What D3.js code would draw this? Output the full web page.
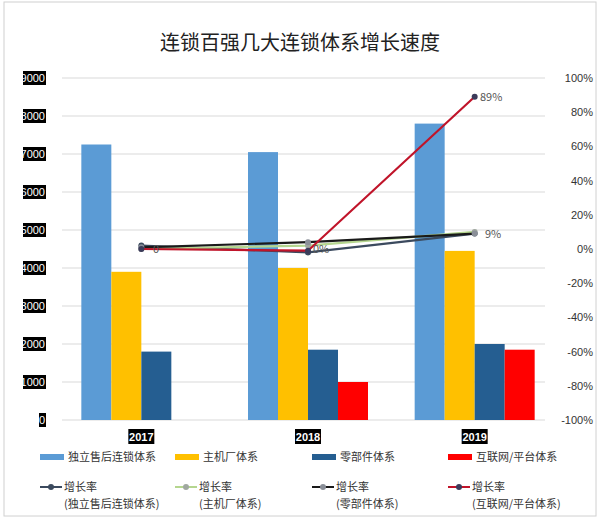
<!DOCTYPE html>
<html><head><meta charset="utf-8">
<script src="https://cdn.jsdelivr.net/npm/d3@7/dist/d3.min.js"></script>
<style>body{margin:0;background:#fff;font-family:"Noto Sans CJK SC",sans-serif}</style>
</head><body><div id="chart"></div>
<script>
var years = ["2017", "2018", "2019"]
var seriesNames = ["独立售后连锁体系", "主机厂体系", "零部件体系", "互联网/平台体系"]
var barValues = [
  [7250, 7050, 7800],
  [3900, 4000, 4450],
  [1800, 1850, 2000],
  [null, 1000, 1850]
]
var growthValues = [
  [2, -2, 9],
  [0, 2, 10],
  [1, 4, 9],
  [0, -1, 89]
]
var leftTicks = [0, 1000, 2000, 3000, 4000, 5000, 6000, 7000, 8000, 9000]
var rightTicks = [-100, -80, -60, -40, -20, 0, 20, 40, 60, 80, 100]

var barColors = ["#5b9bd5", "#ffc000", "#255e91", "#ff0000"]
var lineColors = ["#3b4a5e", "#b5d68f", "#1a1a1a", "#c0142a"]
var dotColors = ["#3b4a5e", "#a0a8a0", "#8a8f98", "#3b3b5a"]

var svg = d3.select('#chart').append('svg').attr('width', 600).attr('height', 519)
svg.append('rect').attr('x', 4).attr('y', 2).attr('width', 592).attr('height', 514)
  .attr('fill', 'none').attr('stroke', '#d0d0d0')

svg.append('text').attr('x', 300).attr('y', 50).attr('text-anchor', 'middle')
  .attr('font-size', 20).attr('fill', '#222').text('连锁百强几大连锁体系增长速度')

var x0 = d3.scaleBand().domain(years).range([58, 558])
var y = d3.scaleLinear().domain([0, 9000]).range([420, 78])
var y2 = d3.scaleLinear().domain([-100, 100]).range([420, 78])

// gridlines
svg.append('g').selectAll('line').data(leftTicks).enter().append('line')
  .attr('x1', 62).attr('x2', 545).attr('y1', d => y(d)).attr('y2', d => y(d))
  .attr('stroke', '#d9d9d9')

// left labels: white on black
var lg = svg.append('g').selectAll('g').data(leftTicks).enter().append('g')
  .attr('transform', d => `translate(45,${y(d)})`)
lg.append('rect').attr('x', d => d === 0 ? -6 : -22).attr('y', -7)
  .attr('width', d => d === 0 ? 7 : 23).attr('height', 14).attr('fill', '#000')
lg.append('text').attr('text-anchor', 'end').attr('dy', 4).attr('font-size', 11)
  .attr('fill', '#fff').attr('font-family', 'Liberation Sans').text(d => d)

svg.append('g').selectAll('text').data(rightTicks).enter().append('text')
  .attr('x', 593).attr('y', d => y2(d) + 4).attr('text-anchor', 'end')
  .attr('font-size', 11).attr('fill', '#333').attr('font-family', 'Liberation Sans')
  .text(d => d + '%')

// bars
var bw = 30
barValues.forEach(function (vals, s) {
  svg.append('g').selectAll('rect').data(vals).enter().filter(d => d != null)
    .append('rect')
    .attr('x', (d, i) => x0(years[vals.indexOf(d)]) + x0.bandwidth() / 2 - 2 * bw + s * bw)
    .attr('y', d => y(d)).attr('width', bw).attr('height', d => 420 - y(d))
    .attr('fill', barColors[s])
})

// year labels
var yl = svg.append('g').selectAll('g').data(years).enter().append('g')
  .attr('transform', d => `translate(${x0(d) + x0.bandwidth() / 2},437)`)
yl.append('rect').attr('x', -13).attr('y', -8).attr('width', 26).attr('height', 15).attr('fill', '#000')
yl.append('text').attr('text-anchor', 'middle').attr('dy', 4).attr('font-size', 11)
  .attr('font-weight', 'bold').attr('fill', '#fff').attr('font-family', 'Liberation Sans').text(d => d)

// growth lines
var line = d3.line().x((d, i) => x0(years[i]) + x0.bandwidth() / 2).y(d => y2(d))
growthValues.forEach(function (vals, s) {
  svg.append('path').datum(vals).attr('d', line).attr('fill', 'none')
    .attr('stroke', lineColors[s]).attr('stroke-width', 2.2)
  svg.append('g').selectAll('circle').data(vals).enter().append('circle')
    .attr('cx', (d, i) => x0(years[i]) + x0.bandwidth() / 2).attr('cy', d => y2(d))
    .attr('r', 3).attr('fill', dotColors[s])
})
svg.append('text').attr('x', 485).attr('y', y2(9) + 4).attr('font-size', 11).attr('fill', '#555').text('9%')
svg.append('text').attr('x', 480).attr('y', y2(89) + 4).attr('font-size', 11).attr('fill', '#555').text('89%')
svg.append('text').attr('x', 313).attr('y', y2(0) + 4).attr('font-size', 11).attr('fill', '#555').text('0%')
svg.append('text').attr('x', 153).attr('y', y2(0) + 4).attr('font-size', 11).attr('fill', '#555').text('0')

// legend
var lx = [40, 175, 312, 448]
seriesNames.forEach(function (n, i) {
  svg.append('rect').attr('x', lx[i]).attr('y', 454).attr('width', 24).attr('height', 6).attr('fill', barColors[i])
  svg.append('text').attr('x', lx[i] + 28).attr('y', 461).attr('font-size', 11).attr('fill', '#333').text(n)
  svg.append('line').attr('x1', lx[i]).attr('x2', lx[i] + 22).attr('y1', 487).attr('y2', 487)
    .attr('stroke', lineColors[i]).attr('stroke-width', 2)
  svg.append('circle').attr('cx', lx[i] + 11).attr('cy', 487).attr('r', 3).attr('fill', dotColors[i])
  svg.append('text').attr('x', lx[i] + 24).attr('y', 491).attr('font-size', 11).attr('fill', '#333').text('增长率')
  svg.append('text').attr('x', lx[i] + 24).attr('y', 508).attr('font-size', 11).attr('fill', '#333').text('(' + n + ')')
})
</script></body></html>
